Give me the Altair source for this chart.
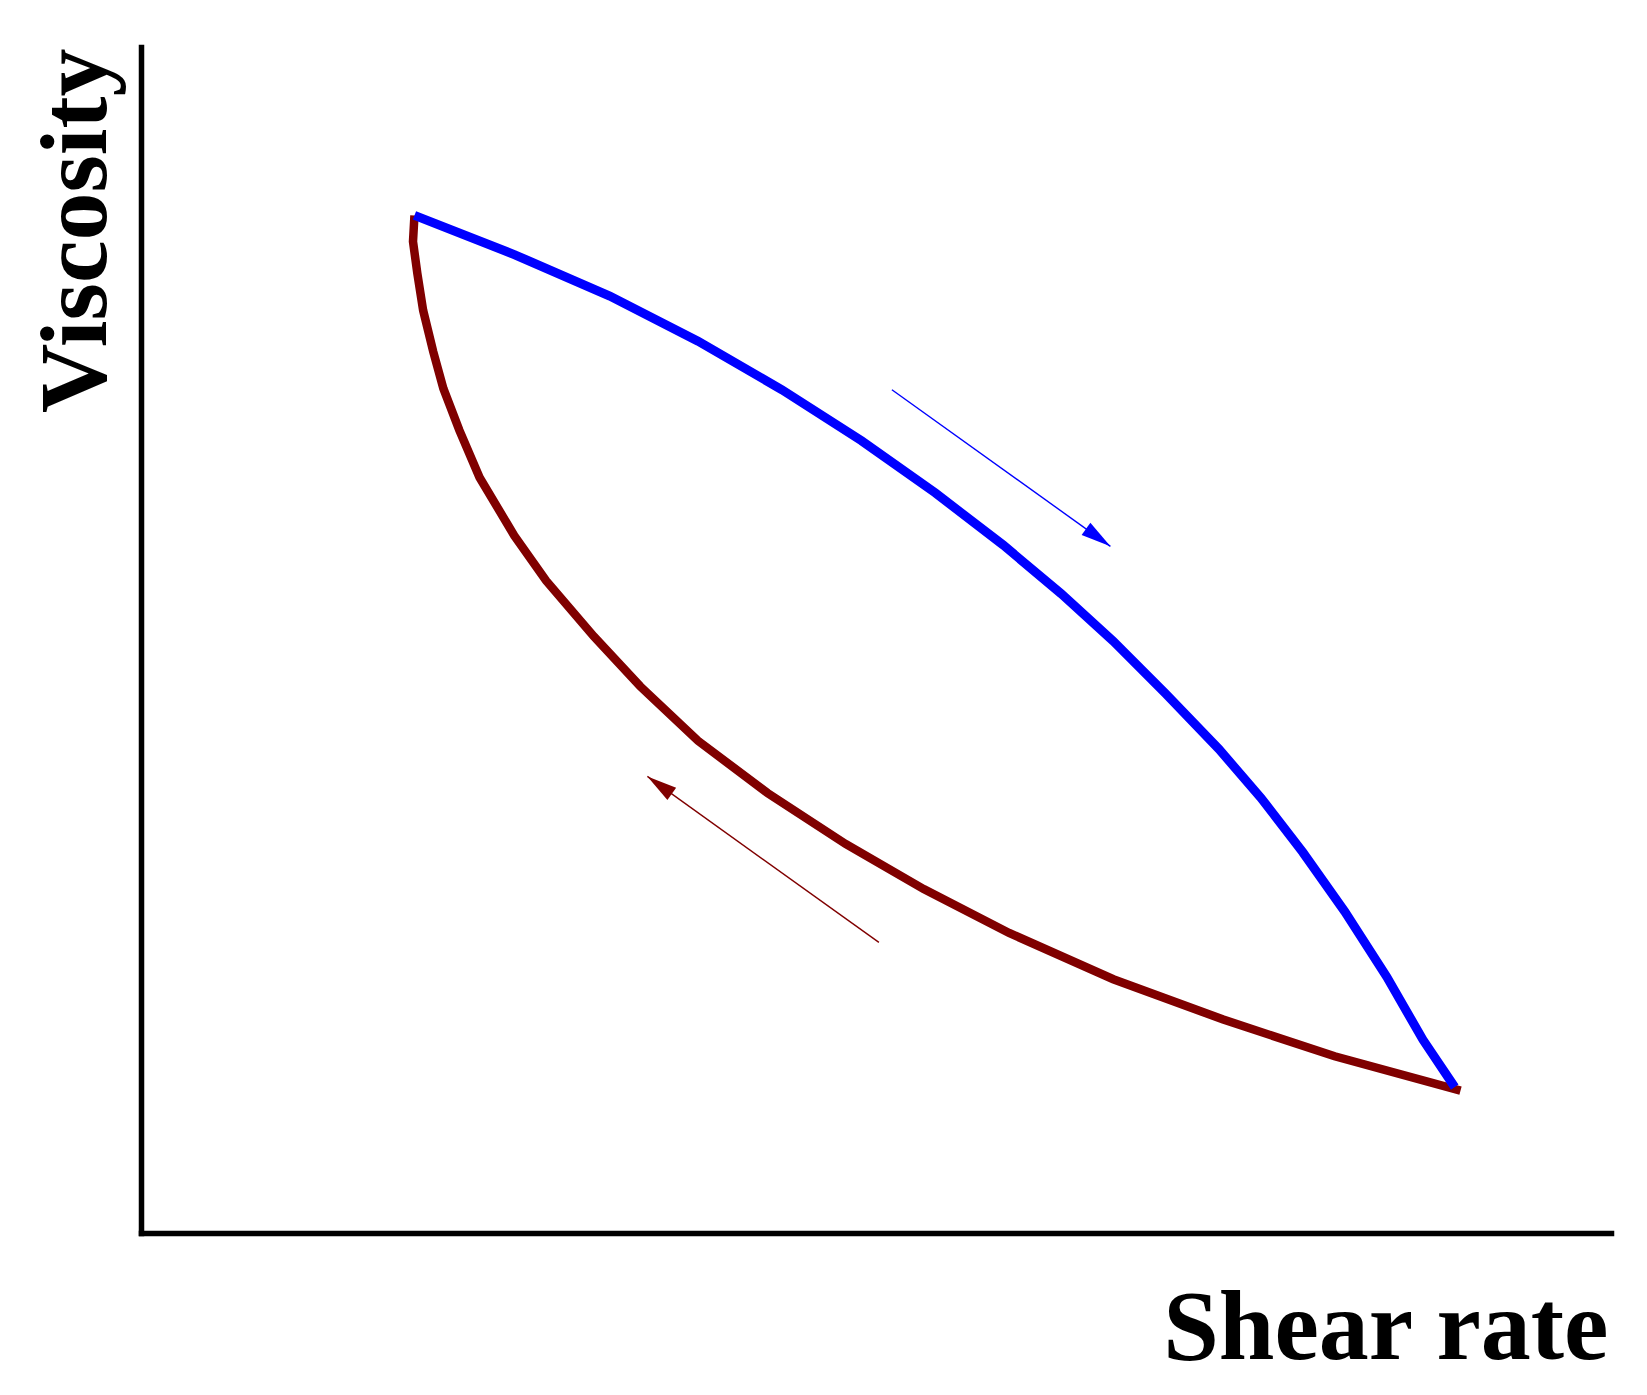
import altair as alt
import pandas as pd
import numpy as np

# Forward sweep (increasing shear rate) - blue curve
up_x = [18.9, 25.8, 32.4, 38.5, 44.3, 49.8, 54.9, 59.6, 63.6, 67.2, 70.8, 74.5, 77.4, 80.3, 83.2, 86.1, 88.6, 90.8]
up_y = [85.8, 82.5, 79.0, 75.2, 71.1, 66.8, 62.4, 58.0, 53.9, 49.9, 45.5, 40.8, 36.7, 32.1, 27.1, 21.6, 16.3, 12.3]

# Backward sweep (decreasing shear rate) - maroon curve
down_x = [18.9, 18.8, 19.1, 19.5, 20.2, 20.9, 22.0, 23.4, 25.8, 28.0, 31.3, 34.5, 38.5, 43.3, 48.7, 54.1, 60.0, 67.2, 74.8, 82.5, 91.2]
down_y = [85.8, 83.6, 80.9, 77.8, 74.3, 71.2, 67.7, 63.7, 58.8, 55.0, 50.3, 46.1, 41.5, 37.1, 32.8, 29.0, 25.3, 21.4, 18.0, 14.9, 12.0]

# Direction arrows (tail -> tip)
arrow_x0 = [51.9, 51.0]
arrow_y0 = [71.1, 24.5]
arrow_x1 = [67.0, 35.0]
arrow_y1 = [57.9, 38.5]
arrow_color = ["#0000FF", "#800000"]

W, H = 1470, 1186
XMAX, YMAX = 101.6, 100.0

up = pd.DataFrame({"x": up_x, "y": up_y, "i": range(len(up_x))})
down = pd.DataFrame({"x": down_x, "y": down_y, "i": range(len(down_x))})

arr = pd.DataFrame({"x0": arrow_x0, "y0": arrow_y0, "x1": arrow_x1, "y1": arrow_y1, "c": arrow_color})
dxp = (arr["x1"] - arr["x0"]) * W / XMAX
dyp = -(arr["y1"] - arr["y0"]) * H / YMAX
arr["ang"] = np.degrees(np.arctan2(dxp, -dyp)) % 360

xs = alt.Scale(domain=[0, XMAX], nice=False, zero=False)
ys = alt.Scale(domain=[0, YMAX], nice=False, zero=False)

FONT = "'Liberation Serif', 'Times New Roman', Times, serif"

xaxis = alt.Axis(title="Shear rate", labels=False, ticks=False, grid=False,
                 domainWidth=5.5, domainColor="black", domainCap="square",
                 titleFont=FONT, titleFontSize=100, titleFontWeight="bold",
                 titleColor="black", titleAnchor="end", titleAlign="right",
                 titleBaseline="alphabetic", titleX=W - 3, titleY=125)
yaxis = alt.Axis(title="Viscosity", labels=False, ticks=False, grid=False,
                 domainWidth=5.5, domainColor="black", domainCap="square",
                 titleFont=FONT, titleFontSize=96, titleFontWeight="bold",
                 titleColor="black", titleAngle=270, titleAnchor="end", titleAlign="right",
                 titleBaseline="alphabetic", titleX=-36, titleY=1)

down_line = alt.Chart(down).mark_line(color="#800000", strokeWidth=8.5).encode(
    x=alt.X("x:Q", scale=xs, axis=xaxis),
    y=alt.Y("y:Q", scale=ys, axis=yaxis),
    order="i:O",
)
up_line = alt.Chart(up).mark_line(color="#0000FF", strokeWidth=9).encode(
    x=alt.X("x:Q", scale=xs),
    y=alt.Y("y:Q", scale=ys),
    order="i:O",
)

shafts = alt.Chart(arr).mark_rule(strokeWidth=1.4).encode(
    x=alt.X("x0:Q", scale=xs), y=alt.Y("y0:Q", scale=ys),
    x2="x1:Q", y2="y1:Q",
    color=alt.Color("c:N", scale=None),
)
heads = alt.Chart(arr).mark_point(
    shape="M0,0L-0.25,1L0.25,1Z", filled=True, opacity=1, size=3600, strokeWidth=0
).encode(
    x=alt.X("x1:Q", scale=xs), y=alt.Y("y1:Q", scale=ys),
    angle=alt.Angle("ang:Q", scale=None),
    color=alt.Color("c:N", scale=None),
)

chart = alt.layer(down_line, up_line, shafts, heads).properties(
    width=W, height=H,
    autosize=alt.AutoSizeParams(type="none"),
    padding={"left": 133, "top": 39, "right": 20, "bottom": 160},
    background="white",
).configure_view(stroke=None).configure_axis(domainWidth=5.5, domainColor="black")

chart.save("out.html", embed_options={"renderer": "svg", "actions": False})
